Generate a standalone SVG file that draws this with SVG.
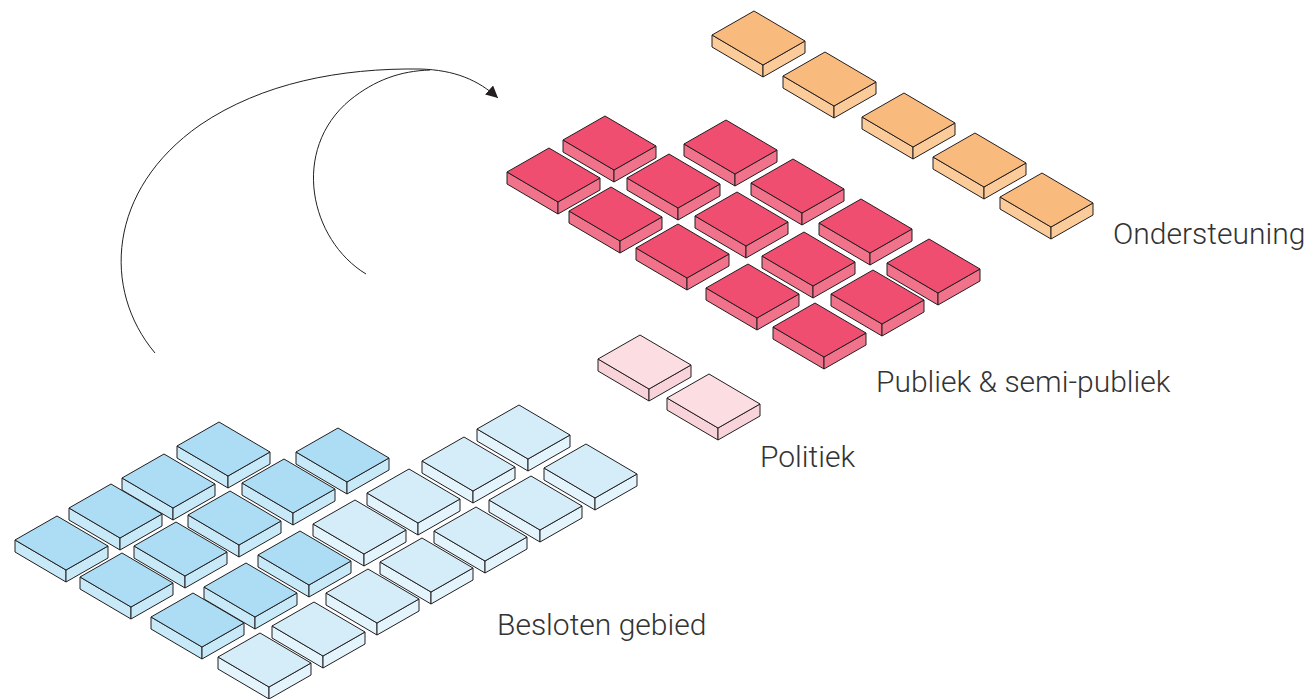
<svg xmlns="http://www.w3.org/2000/svg" xmlns:xlink="http://www.w3.org/1999/xlink" width="1316" height="699" viewBox="0 0 1316 699">
<style>
  .ln{stroke:#231f20;stroke-width:1;stroke-linejoin:round}
  .tp{fill:var(--top)}
  .sd{fill:var(--side)}
  .o{--top:#F9BA7E;--side:#FCCB9A}
  .r{--top:#EF4E71;--side:#F0738B}
  .p{--top:#FBDDE2;--side:#F9D3DA}
  .b{--top:#ADDDF4;--side:#C7E9F8}
  .c{--top:#D5EDF9;--side:#E3F4FC}
  .lbl{font-family:Roboto,"Liberation Sans",sans-serif;font-weight:300;font-size:30px;fill:#333}
  .con{fill:none;stroke:#231f20;stroke-width:1}
</style>
<defs>
  <g id="tile">
    <polygon class="sd ln" points="0,0 51,30 51,42 0,12"/>
    <polygon class="sd ln" points="51,30 93,6 93,18 51,42"/>
    <polygon class="tp ln" points="0,0 42,-24 93,6 51,30"/>
  </g>
  <marker id="ah" markerUnits="userSpaceOnUse" markerWidth="14" markerHeight="14" refX="12" refY="6" orient="auto">
    <path d="M0,0 L12,6 L0,12 z" fill="#231f20"/>
  </marker>
</defs>

<g id="connectors">
  <path class="con" d="M155,353 C102,290 107,190 200,125 C262,83 340,68 420,69 C455,70 478,80 498,98" marker-end="url(#ah)"/>
  <path class="con" d="M366,274 C310,240 290,150 350,100 C375,80 400,71 430,70"/>
</g>

<g id="ondersteuning" class="o">
  <g id="ond-1"><use xlink:href="#tile" x="712" y="35"/></g>
  <g id="ond-2"><use xlink:href="#tile" x="783" y="76"/></g>
  <g id="ond-3"><use xlink:href="#tile" x="862" y="117"/></g>
  <g id="ond-4"><use xlink:href="#tile" x="933" y="157"/></g>
  <g id="ond-5"><use xlink:href="#tile" x="1000" y="197"/></g>
</g>

<g id="publiek" class="r">
  <g id="pub-1"><use xlink:href="#tile" x="563" y="140"/></g>
  <g id="pub-3"><use xlink:href="#tile" x="684" y="144"/></g>
  <g id="pub-2"><use xlink:href="#tile" x="507" y="172"/></g>
  <g id="pub-4"><use xlink:href="#tile" x="627" y="178"/></g>
  <g id="pub-6"><use xlink:href="#tile" x="751" y="183"/></g>
  <g id="pub-5"><use xlink:href="#tile" x="569" y="211"/></g>
  <g id="pub-7"><use xlink:href="#tile" x="695" y="216"/></g>
  <g id="pub-9"><use xlink:href="#tile" x="819" y="223"/></g>
  <g id="pub-8"><use xlink:href="#tile" x="636" y="248"/></g>
  <g id="pub-10"><use xlink:href="#tile" x="762" y="256"/></g>
  <g id="pub-12"><use xlink:href="#tile" x="887" y="263"/></g>
  <g id="pub-11"><use xlink:href="#tile" x="706" y="288"/></g>
  <g id="pub-13"><use xlink:href="#tile" x="831" y="294"/></g>
  <g id="pub-14"><use xlink:href="#tile" x="773" y="327"/></g>
</g>

<g id="politiek" class="p">
  <g id="pol-1"><use xlink:href="#tile" x="598" y="359"/></g>
  <g id="pol-2"><use xlink:href="#tile" x="667" y="398"/></g>
</g>

<g id="besloten-light" class="c">
  <g id="bes-l1"><use xlink:href="#tile" x="477" y="429"/></g>
  <g id="bes-l2"><use xlink:href="#tile" x="422" y="461"/></g>
  <g id="bes-l3"><use xlink:href="#tile" x="544" y="468"/></g>
  <g id="bes-l4"><use xlink:href="#tile" x="367" y="493"/></g>
  <g id="bes-l5"><use xlink:href="#tile" x="489" y="500"/></g>
  <g id="bes-l6"><use xlink:href="#tile" x="313" y="524"/></g>
  <g id="bes-l7"><use xlink:href="#tile" x="434" y="531"/></g>
  <g id="bes-l8"><use xlink:href="#tile" x="380" y="562"/></g>
  <g id="bes-l9"><use xlink:href="#tile" x="326" y="593"/></g>
  <g id="bes-l10"><use xlink:href="#tile" x="272" y="626"/></g>
  <g id="bes-l11"><use xlink:href="#tile" x="218" y="657"/></g>
</g>

<g id="besloten-dark" class="b">
  <g id="bes-d1"><use xlink:href="#tile" x="177" y="446"/></g>
  <g id="bes-d2"><use xlink:href="#tile" x="296" y="452"/></g>
  <g id="bes-d3"><use xlink:href="#tile" x="122" y="478"/></g>
  <g id="bes-d4"><use xlink:href="#tile" x="242" y="483"/></g>
  <g id="bes-d5"><use xlink:href="#tile" x="69" y="508"/></g>
  <g id="bes-d6"><use xlink:href="#tile" x="188" y="515"/></g>
  <g id="bes-d7"><use xlink:href="#tile" x="15" y="540"/></g>
  <g id="bes-d8"><use xlink:href="#tile" x="134" y="546"/></g>
  <g id="bes-d9"><use xlink:href="#tile" x="258" y="555"/></g>
  <g id="bes-d10"><use xlink:href="#tile" x="80" y="577"/></g>
  <g id="bes-d11"><use xlink:href="#tile" x="204" y="587"/></g>
  <g id="bes-d12"><use xlink:href="#tile" x="151" y="617"/></g>
</g>

<g id="labels">
  <text class="lbl" x="1113" y="244">Ondersteuning</text>
  <text class="lbl" x="876" y="392">Publiek &amp; semi-publiek</text>
  <text class="lbl" x="760" y="467">Politiek</text>
  <text class="lbl" x="497" y="635">Besloten gebied</text>
</g>
</svg>
